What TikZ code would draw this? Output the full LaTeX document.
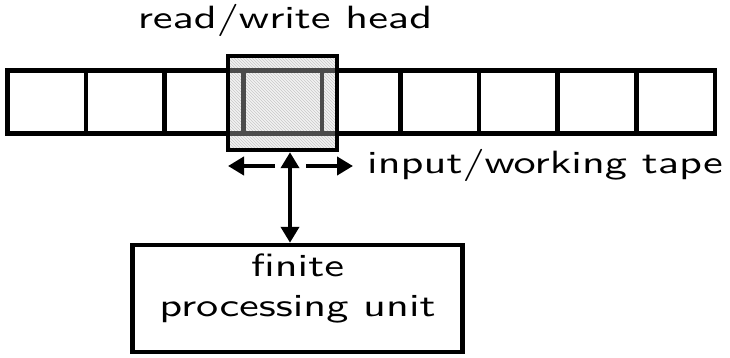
\documentclass[tikz,border=0pt]{standalone}
\usepackage{fontspec}
\setsansfont{lmsans10-regular.otf}[FakeStretch=1.376]
\usetikzlibrary{arrows.meta}
\usetikzlibrary{patterns}
\usetikzlibrary{positioning}
\tikzset{
	cell/.style={draw, line width=4.5pt, minimum width=78.6pt, minimum height=63pt, inner sep=0pt},
	headarea/.style={minimum width=109pt, minimum height=94pt, inner sep=0pt},
	headhatch/.style={headarea, pattern=north west lines, pattern color=black!25},
	headbox/.style={headarea, draw, line width=4.5pt, fill=black!15, fill opacity=0.35, draw opacity=1},
	unitbox/.style={draw, line width=4.5pt, minimum width=330pt, minimum height=107pt, inner sep=0pt},
	txt/.style={inner sep=0pt, font=\sffamily\fontsize{32.2}{40}\selectfont},
	move/.style={line width=4pt, -{Triangle[length=16pt,width=18pt]}}
}
\begin{document}
\begin{tikzpicture}[x=1pt, y=-1pt]
	\useasboundingbox (0,0) rectangle (730,358);

	% hatching under the head
	\node[headhatch] (hatch) at (282.5,103) {};

	% tape
	\foreach \i in {0,...,8}
		\node[cell] (c\i) at ({46.8+78.6*\i},102) {};

	% read/write head over the fourth cell
	\node[headbox] (head) at (hatch) {};
	\node[txt, anchor=base] (headlabel) at (285,29) {read/write head};

	% head movement
	\coordinate (axis) at (290,166);
	\coordinate (lfrom) at (275,166);
	\coordinate (lto) at (228,166);
	\coordinate (rfrom) at (306,166);
	\coordinate (rto) at (353,166);
	\draw[move] (lfrom) -- (lto);
	\draw[move] (rfrom) -- (rto);
	\node[txt, anchor=base west] (tapelabel) at (367,174) {input/working tape};

	% processing unit
	\node[unitbox] (unit) at (297.5,298.5) {};
	\node[txt, align=center] (unitlabel) at (297.5,288.9) {finite\\processing unit};
	\draw[move, {Triangle[length=16pt,width=18pt]}-{Triangle[length=16pt,width=18pt]}]
		(head.south -| axis) -- (unit.north -| axis);
\end{tikzpicture}
\end{document}
